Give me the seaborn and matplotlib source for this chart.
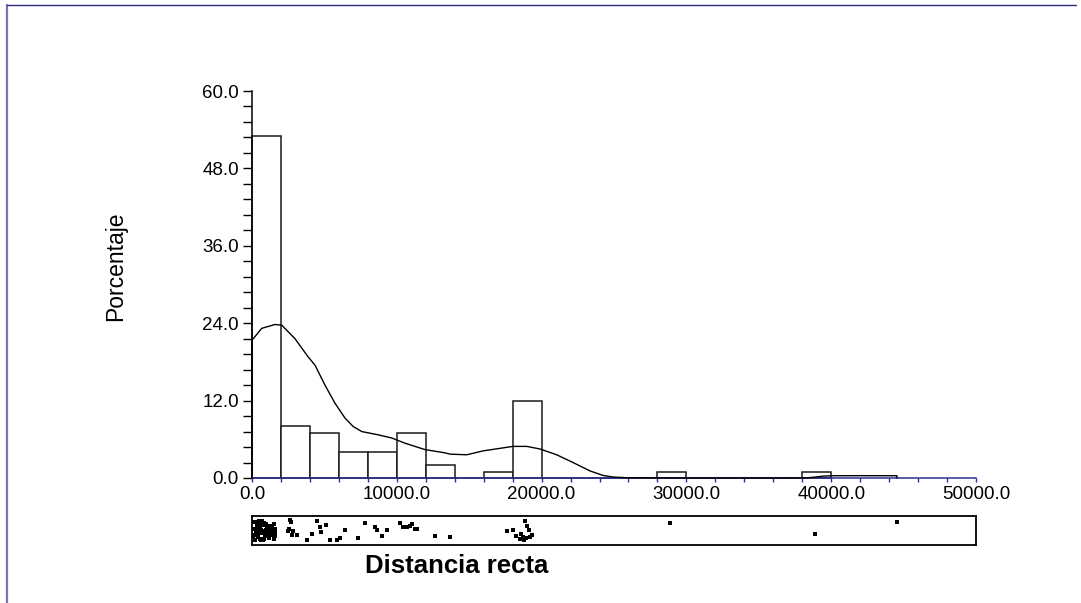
import numpy as np
import matplotlib
matplotlib.use("Agg")
import matplotlib.pyplot as plt
from matplotlib.lines import Line2D
from matplotlib.ticker import MultipleLocator, FuncFormatter
import seaborn as sns

# Histogram: percentage of observations per 2000-unit class
bin_starts = [0, 2000, 4000, 6000, 8000, 10000, 12000, 14000, 16000, 18000,
              20000, 22000, 24000, 26000, 28000, 30000, 32000, 34000, 36000, 38000]
bin_width = 2000
percent = [53, 8, 7, 4, 4, 7, 2, 0, 1, 12,
           0, 0, 0, 0, 1, 0, 0, 0, 0, 1]

# Density trace (percentage scale)
density_x = [0, 0, 90, 670, 1590, 2050, 2970, 3870, 4350, 5040, 5730, 6420, 6980,
             7580, 8700, 9650, 10560, 11950, 13330, 13670, 14830, 15950, 17130,
             18020, 18970, 19890, 21040, 22170, 23340, 24240, 24930, 26000,
             30000, 36000, 38300, 38800, 39400, 40050, 42000, 44540, 44540]
density_y = [0, 21.5, 21.6, 23.2, 23.8, 23.7, 21.6, 18.8, 17.5, 14.4, 11.6, 9.3, 8.0,
             7.2, 6.7, 6.2, 5.4, 4.4, 3.9, 3.7, 3.6, 4.2, 4.6,
             4.9, 4.9, 4.5, 3.6, 2.4, 1.1, 0.4, 0.15, 0.03,
             0.0, 0.0, 0.02, 0.12, 0.28, 0.35, 0.36, 0.35, 0]

# Individual observations (dot plot)
distancia = [
    45, 95, 130, 160, 210, 250, 275, 310, 340, 365, 400, 430, 455, 490, 520,
    545, 580, 610, 640, 665, 700, 730, 760, 785, 815, 850, 880, 905, 940, 970,
    1000, 1035, 1060, 1090, 1120, 1150, 1185, 1210, 1240, 1270, 1300, 1330,
    1360, 1390, 1420, 1450, 1480, 1500, 1530, 1555, 1580, 1600, 1620,
    2490, 2555, 2620, 2690, 2760, 2830, 3110, 3800,
    4130, 4470, 4700, 4760, 5110, 5390, 5850,
    6080, 6420, 7320, 7800,
    8500, 8610, 8960, 9300,
    10220, 10450, 10680, 10910, 11030, 11260, 11370,
    12640, 13670,
    17590,
    18030, 18250, 18480, 18600, 18720, 18790, 18850, 18930, 19010, 19100, 19200, 19340,
    28870, 38880, 44540,
]

x_ticks = [0, 10000, 20000, 30000, 40000, 50000]
y_ticks = [0, 12, 24, 36, 48, 60]

sns.set_theme(style="white")
plt.rcParams['font.family'] = ['Liberation Sans', 'DejaVu Sans']

W, H = 1081, 603
fig = plt.figure(figsize=(W / 100, H / 100), dpi=100)
navy = '#2e2e96'

# Main histogram panel
ax = fig.add_axes([252 / W, 1 - 478 / H, 724 / W, (478 - 91) / H])
centers = [s + bin_width / 2 for s in bin_starts]
edges = bin_starts + [bin_starts[-1] + bin_width]
sns.histplot(x=centers, weights=percent, bins=edges, stat='count',
             color='white', edgecolor='#1a1a1a', linewidth=1.1, alpha=1,
             ax=ax, zorder=2)
for p in ax.patches:
    p.set_facecolor('white')
    p.set_clip_on(False)

sns.lineplot(x=density_x, y=density_y, sort=False, estimator=None,
             color='black', linewidth=1.0, ax=ax, zorder=3)
for ln in ax.lines:
    ln.set_clip_on(False)

ax.set_xlim(0, 50000)
ax.set_ylim(0, 60)
ax.set_xlabel('')
ax.set_ylabel('')
for side in ['top', 'right']:
    ax.spines[side].set_visible(False)
ax.spines['left'].set_color('black')
ax.spines['left'].set_linewidth(1.1)
ax.spines['bottom'].set_color(navy)
ax.spines['bottom'].set_linewidth(1.1)

ax.set_yticks(y_ticks)
ax.yaxis.set_minor_locator(MultipleLocator(2.4))
ax.yaxis.set_major_formatter(FuncFormatter(lambda v, p: f'{v:.1f}'))
ax.set_xticks(x_ticks)
ax.xaxis.set_minor_locator(MultipleLocator(2000))
ax.xaxis.set_major_formatter(FuncFormatter(lambda v, p: f'{v:.1f}'))
ax.tick_params(axis='y', which='both', left=True, direction='out',
               length=6.5, width=1, color='black', labelsize=13.5, pad=3,
               labelcolor='black')
ax.tick_params(axis='x', which='both', bottom=True, direction='out',
               length=3, width=1, color=navy, labelsize=13.5, pad=2.5,
               labelcolor='black')

# Dot plot strip of the raw observations
ax2 = fig.add_axes([252 / W, 1 - 545 / H, 724 / W, 29 / H])
np.random.seed(7)
sns.stripplot(x=distancia, color='black', marker='s', size=2.6, linewidth=0,
              jitter=0.36, ax=ax2)
ax2.set_xlim(0, 50000)
ax2.set_ylim(0.5, -0.5)
ax2.set_xticks([])
ax2.set_yticks([])
ax2.set_xlabel('')
for s in ax2.spines.values():
    s.set_visible(True)
    s.set_color('black')
    s.set_linewidth(1.3)

fig.text(116 / W, 1 - 266 / H, 'Porcentaje', rotation=90, ha='center',
         va='center', fontsize=16.5, color='black')
fig.text(457 / W, 1 - 566 / H, 'Distancia recta', ha='center', va='center',
         fontsize=18.5, fontweight='bold', color='black')

# Outer frame
fig.add_artist(Line2D([7.5 / W, 7.5 / W], [0, 1 - 5 / H], color='#7676b4',
                      linewidth=1.6, transform=fig.transFigure))
fig.add_artist(Line2D([7 / W, 1076 / W], [1 - 5 / H, 1 - 5 / H], color='#2c2c80',
                      linewidth=1.0, transform=fig.transFigure))

fig.savefig('out.png', dpi=100)
